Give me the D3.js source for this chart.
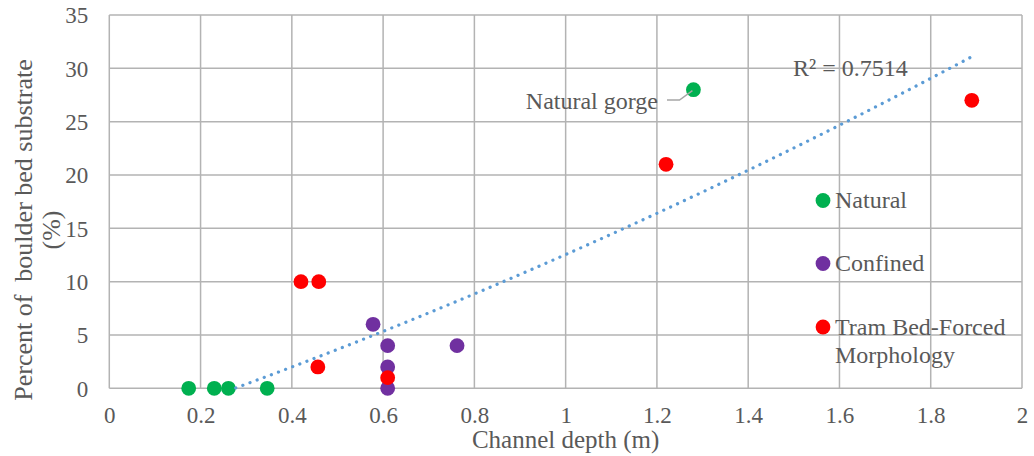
<!DOCTYPE html>
<html><head><meta charset="utf-8">
<script src="https://cdn.jsdelivr.net/npm/d3@7"></script>
<style>body{margin:0;background:#fff}svg{display:block}</style>
</head><body><svg id="c" width="1034" height="456"></svg>
<script>
// ---- data ----
const seriesNames = ["Natural", "Confined", "Tram Bed-Forced Morphology"];
const seriesColors = ["#00b050", "#7030a0", "#ff0000"];
const naturalX = [0.174, 0.23, 0.261, 0.346, 1.28];
const naturalY = [0, 0, 0, 0, 28];
const confinedX = [0.578, 0.61, 0.61, 0.61, 0.762];
const confinedY = [6, 4, 2, 0, 4];
const tramX = [0.42, 0.459, 0.457, 0.61, 1.22, 1.89];
const tramY = [10, 10, 2, 1, 21, 27];
const xTicks = [0, 0.2, 0.4, 0.6, 0.8, 1, 1.2, 1.4, 1.6, 1.8, 2];
const yTicks = [0, 5, 10, 15, 20, 25, 30, 35];
// 2nd-order polynomial trendline (a + b x + c x^2)
const trendCoefs = [-4.15, 14.49, 2.2];
const r2Text = "R² = 0.7514";
const annotationText = "Natural gorge";
const xTitle = "Channel depth (m)";
const yTitleLines = ["Percent of  boulder bed substrate", "(%)"];

const svg = d3.select("#c");
const x = d3.scaleLinear().domain([0, 2]).range([109.3, 1022]);
const y = d3.scaleLinear().domain([0, 35]).range([388.3, 15]);
const font = "'Liberation Serif','Times New Roman',serif";
const txt = "#595959";
const grid = "#b3b3b3";

// gridlines
svg.append("g").selectAll("line").data(yTicks).join("line")
  .attr("x1", x(0)).attr("x2", x(2)).attr("y1", d => y(d)).attr("y2", d => y(d))
  .attr("stroke", grid).attr("stroke-width", 1.5);
svg.append("g").selectAll("line").data(xTicks).join("line")
  .attr("y1", y(0)).attr("y2", y(35)).attr("x1", d => x(d)).attr("x2", d => x(d))
  .attr("stroke", grid).attr("stroke-width", 1.5);

// axes tick labels via d3 axes
const xAxis = svg.append("g").attr("transform", `translate(0,${y(0)})`)
  .call(d3.axisBottom(x).tickValues(xTicks).tickFormat(d3.format("~g")).tickSize(0));
const yAxis = svg.append("g").attr("transform", `translate(${x(0)},0)`)
  .call(d3.axisLeft(y).tickValues(yTicks).tickFormat(d3.format("~g")).tickSize(0).tickPadding(21));
[xAxis, yAxis].forEach(a => {
  a.select(".domain").remove();
  a.selectAll("text").attr("font-family", font).attr("font-size", 23).attr("fill", txt);
});
xAxis.selectAll("text").attr("dy", 0).attr("y", 35);
yAxis.selectAll("text").attr("dy", "0.34em");

// points
const all = [];
[[naturalX, naturalY], [confinedX, confinedY], [tramX, tramY]].forEach(([xs, ys], i) => {
  xs.forEach((v, j) => all.push({x: v, y: ys[j], s: i}));
});
svg.append("g").selectAll("circle").data(all).join("circle")
  .attr("cx", d => x(d.x)).attr("cy", d => y(d.y)).attr("r", 7.4)
  .attr("fill", d => seriesColors[d.s]);

// trendline (clipped at y >= 0 by the axis minimum)
const f = v => trendCoefs[0] + trendCoefs[1] * v + trendCoefs[2] * v * v;
const xmin = d3.min(all, d => d.x), xmax = d3.max(all, d => d.x);
const curve = d3.range(0, 401).map(i => xmin + (xmax - xmin) * i / 400).map(v => [v, f(v)]).filter(p => p[1] >= 0);
svg.append("path").datum(curve)
  .attr("d", d3.line().x(d => x(d[0])).y(d => y(d[1])))
  .attr("fill", "none").attr("stroke", "#5b9bd5").attr("stroke-width", 3.2)
  .attr("stroke-linecap", "round").attr("stroke-dasharray", "0.1 7.5");

// R2 label
svg.append("text").attr("x", 793).attr("y", 75.5).attr("font-family", font).attr("font-size", 24)
  .attr("fill", txt).text(r2Text);

// annotation
svg.append("text").attr("x", 658).attr("y", 108.5).attr("text-anchor", "end").attr("font-family", font)
  .attr("font-size", 24).attr("fill", txt).text(annotationText);
svg.append("polyline")
  .attr("points", [[667, 100], [679.5, 100], [x(naturalX[4]) - 1, y(naturalY[4]) + 1]].map(p => p.join(",")).join(" "))
  .attr("fill", "none").attr("stroke", "#a6a6a6").attr("stroke-width", 1.5);

// legend
const legY = [200.5, 263.5, 327];
const leg = svg.append("g");
seriesNames.forEach((name, i) => {
  leg.append("circle").attr("cx", 823).attr("cy", legY[i]).attr("r", 7.4).attr("fill", seriesColors[i]);
});
const legTexts = [["Natural"], ["Confined"], ["Tram Bed-Forced", "Morphology"]];
legTexts.forEach((lines, i) => {
  const t = leg.append("text").attr("font-family", font).attr("font-size", 24).attr("fill", txt);
  lines.forEach((l, k) => t.append("tspan").attr("x", 835).attr("y", legY[i] + 7.5 + k * 28).text(l));
});

// axis titles
svg.append("text").attr("x", x(1)).attr("y", 448).attr("text-anchor", "middle")
  .attr("font-family", font).attr("font-size", 25).attr("fill", txt).text(xTitle);
const yt = svg.append("text").attr("transform", "translate(31.5,230) rotate(-90)")
  .attr("text-anchor", "middle").attr("font-family", font).attr("font-size", 26)
  .attr("fill", txt).style("white-space", "pre");
yTitleLines.forEach((l, k) => yt.append("tspan").attr("x", 0).attr("dy", k ? 28 : 0).text(l));
</script></body></html>
